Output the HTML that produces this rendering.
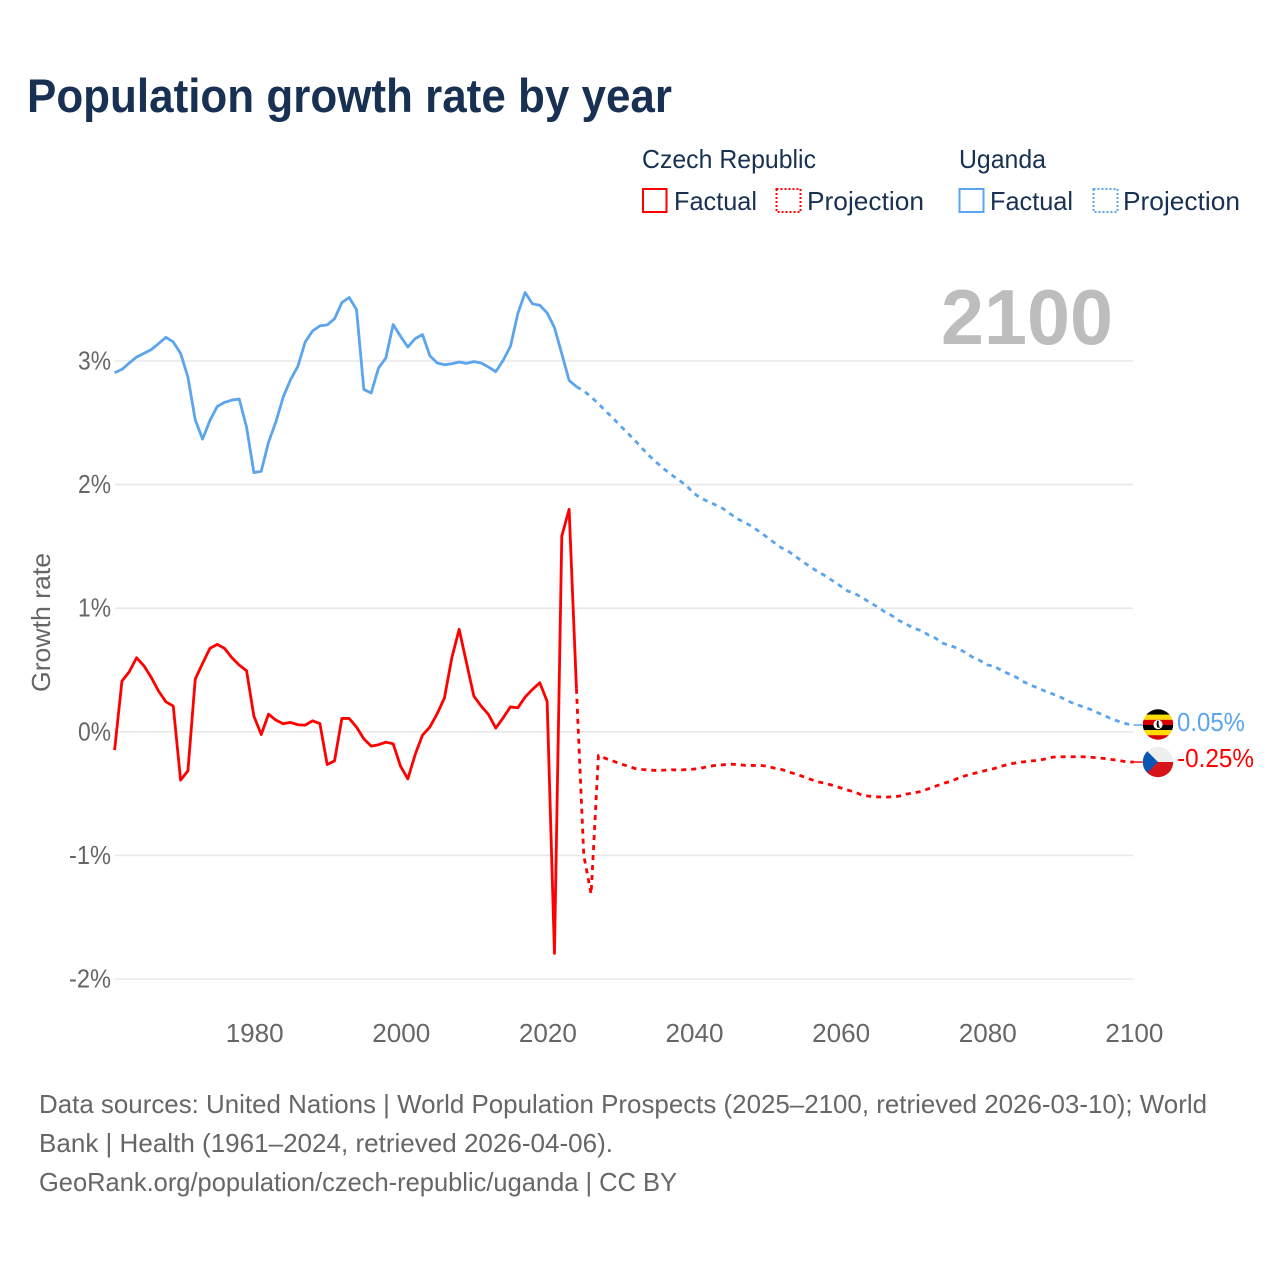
<!DOCTYPE html>
<html lang="en">
<head>
<meta charset="utf-8">
<title>Population growth rate by year</title>
<style>
  html, body { margin: 0; padding: 0; background: #fff; }
  svg { display: block; font-family: "Liberation Sans", sans-serif; }
</style>
</head>
<body>
<svg id="chart" xmlns="http://www.w3.org/2000/svg" width="1280" height="1280" viewBox="0 0 1280 1280">
  <rect x="0" y="0" width="1280" height="1280" fill="#ffffff"/>
  <text x="27" y="112" font-size="47" font-weight="700" fill="#183153" textLength="645" lengthAdjust="spacingAndGlyphs">Population growth rate by year</text>

  <g font-size="26" fill="#183153">
    <text x="642" y="168" textLength="174" lengthAdjust="spacingAndGlyphs">Czech Republic</text>
    <text x="959" y="168" textLength="87" lengthAdjust="spacingAndGlyphs">Uganda</text>
    <rect x="643" y="189" width="23.5" height="23" fill="none" stroke="#ff0000" stroke-width="2"/>
    <text x="674" y="210" textLength="83" lengthAdjust="spacingAndGlyphs">Factual</text>
    <rect x="776.5" y="189" width="24" height="23" fill="none" stroke="#ff0000" stroke-width="2" stroke-dasharray="2 2"/>
    <text x="807" y="210" textLength="117" lengthAdjust="spacingAndGlyphs">Projection</text>
    <rect x="959.5" y="189" width="24" height="23" fill="none" stroke="#5ba4ee" stroke-width="2"/>
    <text x="990" y="210" textLength="83" lengthAdjust="spacingAndGlyphs">Factual</text>
    <rect x="1093.5" y="189" width="24" height="23" fill="none" stroke="#5ba4ee" stroke-width="2" stroke-dasharray="2 2"/>
    <text x="1123" y="210" textLength="117" lengthAdjust="spacingAndGlyphs">Projection</text>
  </g>

  <g id="grid"></g>
  <text x="941" y="344" font-size="78" font-weight="700" fill="#bdbdbd" textLength="172" lengthAdjust="spacingAndGlyphs">2100</text>
  <g id="y-ticks" font-size="26" fill="#666666"></g>
  <g id="x-ticks" font-size="26" fill="#666666"></g>
  <text transform="translate(50 692) rotate(-90)" font-size="26" fill="#666666" textLength="139" lengthAdjust="spacingAndGlyphs">Growth rate</text>
  <g id="series"></g>

  <defs>
    <clipPath id="flag-clip-uganda"><circle cx="1158" cy="724.5" r="15.2"/></clipPath>
    <clipPath id="flag-clip-czech"><circle cx="1158" cy="762" r="15.2"/></clipPath>
  </defs>
  <g clip-path="url(#flag-clip-uganda)">
    <rect x="1142" y="709" width="32" height="6" fill="#000000"/>
    <rect x="1142" y="714.6" width="32" height="5.2" fill="#fcdc04"/>
    <rect x="1142" y="719.8" width="32" height="5.2" fill="#d90000"/>
    <rect x="1142" y="725" width="32" height="5" fill="#000000"/>
    <rect x="1142" y="730" width="32" height="5.2" fill="#fcdc04"/>
    <rect x="1142" y="735.2" width="32" height="5.5" fill="#d90000"/>
    <circle cx="1158" cy="724.5" r="4.6" fill="#ffffff"/>
    <path d="M1157 720.8 L1158.6 720.8 L1158.6 725 L1160 727.6 L1157.4 727.6 L1156.6 725 Z" fill="#000000"/>
  </g>
  <g clip-path="url(#flag-clip-czech)">
    <rect x="1142" y="746" width="32" height="16" fill="#eeeeee"/>
    <rect x="1142" y="762" width="32" height="16" fill="#d7141a"/>
    <path d="M1142 746 L1158 762 L1142 778 Z" fill="#0b55b3"/>
  </g>
  <text x="1177" y="731" font-size="26" fill="#5ba4ee" textLength="68" lengthAdjust="spacingAndGlyphs">0.05%</text>
  <text x="1177" y="767" font-size="26" fill="#ff0000" textLength="77" lengthAdjust="spacingAndGlyphs">-0.25%</text>

  <g font-size="26" fill="#666666">
    <text x="39" y="1113" textLength="1168" lengthAdjust="spacingAndGlyphs">Data sources: United Nations | World Population Prospects (2025–2100, retrieved 2026-03-10); World</text>
    <text x="39" y="1152" textLength="574" lengthAdjust="spacingAndGlyphs">Bank | Health (1961–2024, retrieved 2026-04-06).</text>
    <text x="39" y="1191" textLength="638" lengthAdjust="spacingAndGlyphs">GeoRank.org/population/czech-republic/uganda | CC BY</text>
  </g>
</svg>

<script>
const factualStartYear = 1961;
const projectionStartYear = 2024;
const yTickValues = [3, 2, 1, 0, -1, -2];
const yTickLabels = ['3%', '2%', '1%', '0%', '-1%', '-2%'];
const xTickValues = [1980, 2000, 2020, 2040, 2060, 2080, 2100];
const xTickLabels = ['1980', '2000', '2020', '2040', '2060', '2080', '2100'];

const ugandaFactual = [2.905,2.932,2.984,3.032,3.062,3.092,3.141,3.192,3.154,3.062,2.870,2.524,2.368,2.519,2.632,2.665,2.684,2.692,2.465,2.097,2.108,2.343,2.508,2.708,2.849,2.957,3.154,3.243,3.284,3.292,3.341,3.473,3.514,3.416,2.770,2.741,2.943,3.024,3.295,3.200,3.114,3.181,3.214,3.043,2.984,2.970,2.978,2.992,2.981,2.995,2.984,2.951,2.914,3.005,3.119,3.384,3.554,3.462,3.451,3.389,3.270,3.059,2.843,2.792];
const ugandaProjection = [2.792,2.758,2.710,2.653,2.594,2.537,2.475,2.416,2.356,2.291,2.229,2.175,2.124,2.078,2.035,1.992,1.930,1.889,1.862,1.835,1.806,1.762,1.722,1.692,1.660,1.617,1.574,1.530,1.487,1.457,1.414,1.371,1.331,1.293,1.260,1.220,1.180,1.139,1.117,1.086,1.046,1.014,0.973,0.941,0.900,0.870,0.838,0.819,0.784,0.757,0.716,0.697,0.676,0.643,0.605,0.578,0.541,0.530,0.495,0.468,0.441,0.405,0.376,0.354,0.327,0.305,0.281,0.251,0.224,0.205,0.184,0.157,0.132,0.103,0.084,0.065,0.054];
const czechFactual = [-0.148,0.410,0.486,0.599,0.534,0.440,0.329,0.243,0.208,-0.391,-0.316,0.426,0.553,0.675,0.707,0.675,0.599,0.540,0.494,0.127,-0.022,0.143,0.094,0.065,0.076,0.057,0.054,0.089,0.067,-0.265,-0.235,0.108,0.108,0.038,-0.057,-0.116,-0.105,-0.084,-0.097,-0.278,-0.381,-0.184,-0.027,0.038,0.146,0.275,0.599,0.829,0.559,0.289,0.208,0.140,0.030,0.113,0.202,0.194,0.281,0.343,0.397,0.246,-1.792,1.584,1.800,0.348];
const czechProjection = [0.348,-1.000,-1.312,-0.191,-0.216,-0.237,-0.259,-0.278,-0.297,-0.305,-0.310,-0.313,-0.310,-0.307,-0.310,-0.305,-0.302,-0.294,-0.280,-0.272,-0.267,-0.262,-0.265,-0.272,-0.272,-0.272,-0.278,-0.294,-0.305,-0.326,-0.343,-0.364,-0.386,-0.405,-0.418,-0.434,-0.453,-0.472,-0.488,-0.513,-0.521,-0.526,-0.529,-0.526,-0.521,-0.504,-0.494,-0.483,-0.461,-0.440,-0.418,-0.402,-0.377,-0.356,-0.340,-0.326,-0.310,-0.297,-0.278,-0.262,-0.251,-0.243,-0.235,-0.232,-0.219,-0.205,-0.202,-0.202,-0.202,-0.202,-0.205,-0.210,-0.216,-0.224,-0.232,-0.243,-0.245];

const SVG_NS = 'http://www.w3.org/2000/svg';
const UGANDA_COLOR = '#5ba4ee';
const CZECH_COLOR = '#ff0000';

function xScale(year) {
  return 114.6 + (year - 1961) * (1133.6 - 114.6) / (2100 - 1961);
}
function yScale(value) {
  return 731.8 - value * 123.6;
}
function make(tag, attrs, parent) {
  const el = document.createElementNS(SVG_NS, tag);
  Object.keys(attrs).forEach(function (k) { el.setAttribute(k, attrs[k]); });
  parent.appendChild(el);
  return el;
}
function pathFor(values, startYear) {
  return values.map(function (v, i) {
    return (i ? 'L' : 'M') + xScale(startYear + i).toFixed(2) + ' ' + yScale(v).toFixed(2);
  }).join(' ');
}

const gridGroup = document.getElementById('grid');
const yTickGroup = document.getElementById('y-ticks');
const xTickGroup = document.getElementById('x-ticks');
const seriesGroup = document.getElementById('series');

yTickValues.forEach(function (value, i) {
  const line = make('line', {
    x1: 115, x2: 1133, y1: yScale(value), y2: yScale(value),
    stroke: '#e9e9e9', 'stroke-width': 1.6
  }, gridGroup);
  
  

  const width = yTickLabels[i].length === 2 ? 33 : 42;
  const label = make('text', {
    x: 111 - width, y: yScale(value) + 8.5,
    textLength: width, lengthAdjust: 'spacingAndGlyphs'
  }, yTickGroup);
  label.textContent = yTickLabels[i];
  
  
});

xTickValues.forEach(function (year, i) {
  const label = make('text', {
    x: xScale(year) - 28.2, y: 1042,
    textLength: 58, lengthAdjust: 'spacingAndGlyphs'
  }, xTickGroup);
  label.textContent = xTickLabels[i];
  
  
});

function drawLine(values, startYear, color, dashed) {
  const attrs = {
    d: pathFor(values, startYear), fill: 'none', stroke: color,
    'stroke-width': 2.8, 'stroke-linejoin': 'round'
  };
  if (dashed) { attrs['stroke-dasharray'] = '5 5'; }
  return make('path', attrs, seriesGroup);
}

const ugandaFactualLine = drawLine(ugandaFactual, factualStartYear, UGANDA_COLOR, false);



const ugandaProjectionLine = drawLine(ugandaProjection, projectionStartYear, UGANDA_COLOR, true);



const czechFactualLine = drawLine(czechFactual, factualStartYear, CZECH_COLOR, false);



const czechProjectionLine = drawLine(czechProjection, projectionStartYear, CZECH_COLOR, true);



function drawConnector(values, color) {
  const y = yScale(values[values.length - 1]);
  return make('line', {
    x1: xScale(2100), x2: xScale(2100) + 9, y1: y, y2: y,
    stroke: color, 'stroke-width': 1.8, 'stroke-opacity': 0.8
  }, seriesGroup);
}

const ugandaConnector = drawConnector(ugandaProjection, UGANDA_COLOR);



const czechConnector = drawConnector(czechProjection, CZECH_COLOR);


</script>
</body>
</html>
